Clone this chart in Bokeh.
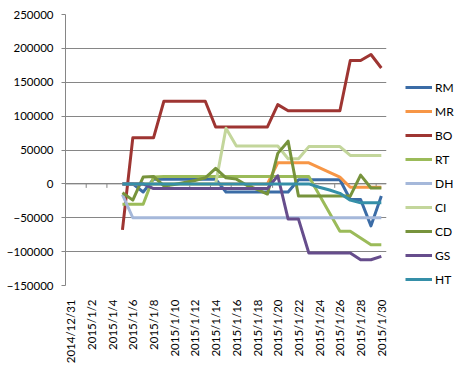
import math
from bokeh.plotting import figure
from bokeh.models import (Range1d, FixedTicker, Legend, LegendItem, Span,
                          BasicTickFormatter)
from bokeh.embed import file_html
from bokeh.resources import INLINE

N = float("nan")

dates = ["2014/12/31", "2015/1/1", "2015/1/2", "2015/1/3", "2015/1/4", "2015/1/5",
         "2015/1/6", "2015/1/7", "2015/1/8", "2015/1/9", "2015/1/10", "2015/1/11",
         "2015/1/12", "2015/1/13", "2015/1/14", "2015/1/15", "2015/1/16", "2015/1/17",
         "2015/1/18", "2015/1/19", "2015/1/20", "2015/1/21", "2015/1/22", "2015/1/23",
         "2015/1/24", "2015/1/25", "2015/1/26", "2015/1/27", "2015/1/28", "2015/1/29",
         "2015/1/30"]

RM = [N, N, N, N, N, 0, 0, -12000, 7000, 7000, 7000, 7000, 7000, 7000, 7000,
      -12000, -12000, -12000, -12000, -12000, -12000, -12000, 6000, 6000, 6000, 6000,
      6000, -23000, -23000, -62000, -18000]
MR = [N, N, N, N, N, 0, 0, 0, 0, 0, 0, 0, 0, 0, 0, 0, 0, 0, 0, 0,
      31000, 31000, 31000, 31000, 24000, 17000, 10000, -5000, -5000, -5000, -5000]
BO = [N, N, N, N, N, -68000, 68000, 68000, 68000, 122000, 122000, 122000, 122000,
      122000, 84000, 84000, 84000, 84000, 84000, 84000, 117000, 108000, 108000,
      108000, 108000, 108000, 108000, 182000, 182000, 191000, 171000]
RT = [N, N, N, N, N, -30000, -30000, -30000, 10000, 11000, 11000, 11000, 11000,
      11000, 11000, 11000, 11000, 11000, 11000, 11000, 11000, 11000, 11000, 11000,
      -16000, -43000, -70000, -70000, -80000, -90000, -90000]
DH = [N, N, N, N, N, -16000, -50000, -50000, -50000, -50000, -50000, -50000, -50000,
      -50000, -50000, -50000, -50000, -50000, -50000, -50000, -50000, -50000, -50000,
      -50000, -50000, -50000, -50000, -50000, -50000, -50000, -50000]
CI = [N, N, N, N, N, 0, 0, 0, 0, 0, 0, 0, 0, 0, 0, 82000, 56000, 56000, 56000,
      56000, 56000, 37000, 37000, 55000, 55000, 55000, 55000, 42000, 42000, 42000, 42000]
CD = [N, N, N, N, N, -13000, -24000, 10000, 11000, -3000, -1000, 2000, 5000, 9000,
      23000, 9000, 7000, -2000, -8000, -15000, 45000, 63000, -18000, -18000, -18000,
      -18000, -18000, -18000, 13000, -6000, -6000]
GS = [N, N, N, N, N, 0, 0, 0, -7000, -7000, -7000, -7000, -7000, -7000, -7000, -7000,
      -7000, -7000, -7000, -7000, 12000, -52000, -52000, -102000, -102000, -102000,
      -102000, -102000, -112000, -112000, -107000]
HT = [N, N, N, N, N, 0, 0, 0, 0, 0, 0, 0, 0, 0, 0, 0, 0, 0, 0, 0, 0, 0, 0, 0,
      -5000, -9000, -14000, -24000, -28000, -28000, -28000]

series_names = ["RM", "MR", "BO", "RT", "DH", "CI", "CD", "GS", "HT"]
series_values = [RM, MR, BO, RT, DH, CI, CD, GS, HT]
series_colors = ["#3B6CA6", "#F79646", "#9E3532", "#9BBB59", "#A5B8DA",
                 "#C3D69B", "#77933C", "#664D8C", "#358FA8"]

y_ticks = [-150000, -100000, -50000, 0, 50000, 100000, 150000, 200000, 250000]

x = list(range(len(dates)))
FONT = "Lato"
GRAY = "#868686"

p = figure(frame_width=321, frame_height=271,
           min_border_left=65, min_border_top=14, min_border_right=66, min_border_bottom=66,
           x_range=Range1d(-0.5, len(dates) - 0.5),
           y_range=Range1d(y_ticks[0], y_ticks[-1]),
           output_backend="svg", toolbar_location=None)
p.outline_line_color = None
p.background_fill_color = "white"
p.border_fill_color = "white"

# y axis
p.yaxis.ticker = FixedTicker(ticks=y_ticks)
p.yaxis.formatter = BasicTickFormatter(use_scientific=False)
p.yaxis.axis_line_color = GRAY
p.yaxis.major_tick_line_color = GRAY
p.yaxis.major_tick_out = 4
p.yaxis.major_tick_in = 0
p.yaxis.minor_tick_line_color = None
p.yaxis.major_label_standoff = 8
p.yaxis.major_label_text_font = FONT
p.yaxis.major_label_text_font_size = "11.5px"
p.yaxis.major_label_text_color = "black"

p.ygrid.ticker = FixedTicker(ticks=y_ticks)
p.ygrid.grid_line_color = GRAY
p.xgrid.visible = False

# x labels (bottom)
label_ticks = x[::2]
p.xaxis.ticker = FixedTicker(ticks=label_ticks)
p.xaxis.major_label_overrides = {i: dates[i] for i in label_ticks}
p.xaxis.major_label_orientation = math.pi / 2
p.xaxis.axis_line_color = None
p.xaxis.major_tick_line_color = None
p.xaxis.minor_tick_line_color = None
p.xaxis.major_label_standoff = 8
p.xaxis.major_label_text_font = FONT
p.xaxis.major_label_text_font_size = "11.5px"
p.xaxis.major_label_text_color = "black"

# horizontal axis line crossing at zero, with ticks between categories
p.add_layout(Span(location=0, dimension="width", line_color=GRAY, line_width=1,
                  level="underlay"))
p.ray(x=[i - 0.5 for i in x[::2]], y=0, length=4, length_units="screen",
      angle=-math.pi / 2, line_color=GRAY, line_width=1, level="underlay")

items = []
for name, vals, col in zip(series_names, series_values, series_colors):
    r = p.line(x, vals, line_color=col, line_width=3, line_join="round")
    items.append(LegendItem(label=name, renderers=[r]))

legend = Legend(items=items, location=(19, -4), orientation="vertical",
                glyph_width=27, glyph_height=20, label_height=20, spacing=4,
                padding=0, margin=0, label_standoff=3,
                border_line_color=None, background_fill_alpha=0,
                label_text_font=FONT, label_text_font_size="12px",
                label_text_color="black")
p.add_layout(legend, "right")

open("out.html", "w").write(file_html(p, INLINE))
